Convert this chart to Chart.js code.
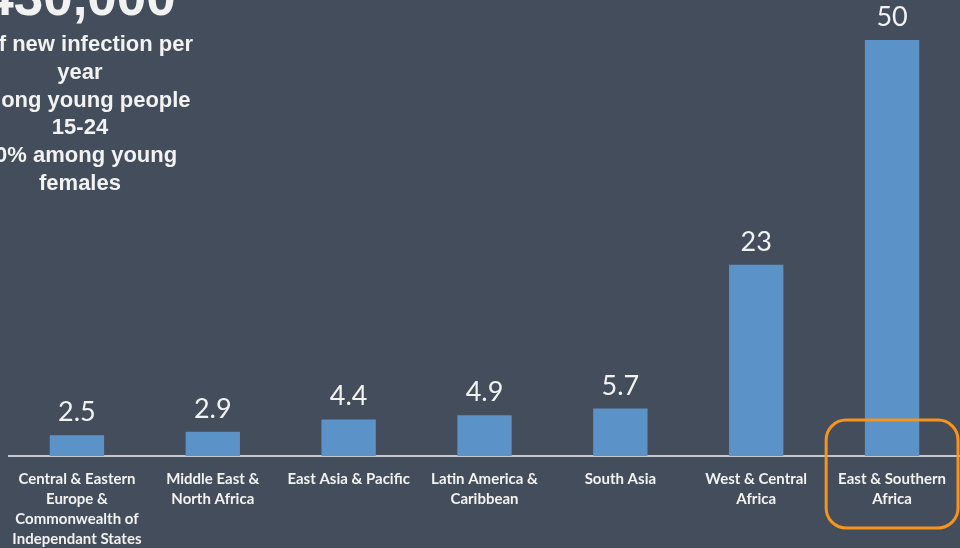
<!DOCTYPE html>
<html>
<head>
<meta charset="utf-8">
<script src="https://cdn.jsdelivr.net/npm/chart.js@4"></script>
<style>
  html, body { margin: 0; padding: 0; background: #434d5b; overflow: hidden; }
  #wrap { position: relative; width: 960px; height: 548px; }
  #note {
    position: absolute; left: -70px; top: -26px; width: 300px;
    text-align: center; color: #f2f2f2; white-space: nowrap;
    font-family: "Liberation Sans", Arial, sans-serif; font-weight: bold;
    font-size: 22px; line-height: 27.8px;
  }
  #note .big { font-size: 53px; line-height: 56px; margin-top: -5px; margin-bottom: 5px; }
</style>
</head>
<body>
<div id="wrap">
  <canvas id="chart" width="960" height="548"></canvas>
  <div id="note">
    <div class="big">430,000</div>
    <div># of new infection per<br>year</div>
    <div>among young people<br>15-24</div>
    <div>60% among young<br>females</div>
  </div>
</div>
<script>
const regions = [
  ['Central & Eastern', 'Europe &', 'Commonwealth of', 'Independant States'],
  ['Middle East &', 'North Africa'],
  ['East Asia & Pacific'],
  ['Latin America &', 'Caribbean'],
  ['South Asia'],
  ['West & Central', 'Africa'],
  ['East & Southern', 'Africa']
];
const shares = [2.5, 2.9, 4.4, 4.9, 5.7, 23, 50];
const highlightIndex = 6;

// value labels above the bars
const valueLabels = {
  id: 'valueLabels',
  afterDatasetsDraw(chart) {
    const ctx = chart.ctx;
    const meta = chart.getDatasetMeta(0);
    ctx.save();
    ctx.fillStyle = '#f2f2f2';
    ctx.font = '27px Lato, "Open Sans", sans-serif';
    ctx.textAlign = 'center';
    ctx.textBaseline = 'alphabetic';
    meta.data.forEach((bar, i) => {
      ctx.fillText(String(shares[i]), bar.x, bar.y - 14);
    });
    ctx.restore();
  }
};

// orange rounded box round the highlighted category label
const highlightBox = {
  id: 'highlightBox',
  afterDraw(chart) {
    const x = chart.scales.x;
    const ctx = chart.ctx;
    const half = (x.getPixelForValue(1) - x.getPixelForValue(0)) / 2;
    const cx = x.getPixelForValue(highlightIndex);
    const base = chart.chartArea.bottom;
    ctx.save();
    ctx.strokeStyle = '#f7941d';
    ctx.lineWidth = 3;
    ctx.beginPath();
    ctx.roundRect(cx - half + 2, base - 36, half * 2 - 4, 108, 20);
    ctx.stroke();
    ctx.restore();
  }
};

new Chart(document.getElementById('chart'), {
  type: 'bar',
  data: {
    labels: regions,
    datasets: [{
      data: shares,
      backgroundColor: '#5b93c8',
      borderWidth: 0,
      categoryPercentage: 1,
      barPercentage: 0.4
    }]
  },
  options: {
    responsive: false,
    animation: false,
    layout: { padding: { left: 9, right: 0, top: 40, bottom: 0 } },
    plugins: {
      legend: { display: false },
      tooltip: { enabled: false }
    },
    scales: {
      y: {
        display: false,
        min: 0,
        max: 50
      },
      x: {
        grid: { display: false },
        border: { display: true, color: '#c3c6cb', width: 2 },
        ticks: {
          color: '#f2f2f2',
          autoSkip: false,
          maxRotation: 0,
          padding: 5,
          font: { family: 'Lato, "Open Sans", sans-serif', size: 15, weight: 'bold', lineHeight: '20px' }
        },
        afterFit(scale) { scale.height = 92; }
      }
    }
  },
  plugins: [valueLabels, highlightBox]
});
</script>
</body>
</html>
